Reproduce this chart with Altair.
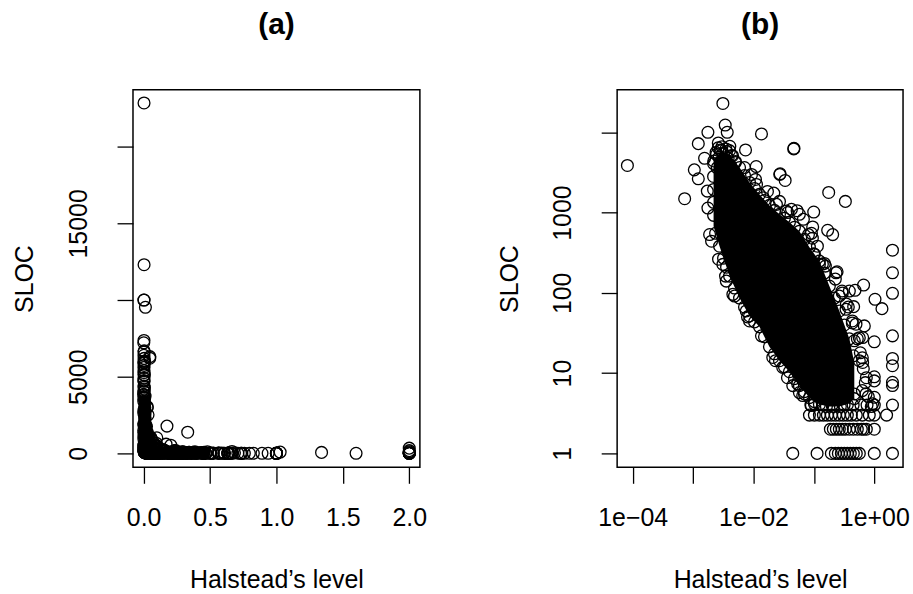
import altair as alt
import pandas as pd

FONT = "Liberation Sans"

# ---- circles: log10(Halstead's level), log10(SLOC) ----
# edge of the dense cloud (upper / left side)
EDGE_TOP_LX = [-2.661, -2.661, -2.661, -2.661, -2.661, -2.612, -2.529, -2.446, -2.364, -2.298,
               -2.231, -2.149, -2.066, -1.983, -1.901, -1.818, -1.736, -1.653, -1.570, -1.488,
               -1.405, -1.322, -1.240, -1.157, -1.074, -0.992, -0.909, -0.826, -0.744, -0.661,
               -0.579, -0.496, -0.413, -0.347]
EDGE_TOP_LY = [3.610, 3.449, 3.288, 3.127, 2.965, 3.722, 3.772, 3.759, 3.710, 3.635,
               3.561, 3.462, 3.375, 3.300, 3.226, 3.151, 3.089, 3.027, 2.978, 2.928,
               2.878, 2.816, 2.767, 2.667, 2.568, 2.481, 2.395, 2.246, 2.084, 1.935,
               1.774, 1.600, 1.427, 1.216]
# edge of the dense cloud (lower side)
EDGE_BOT_LX = [-2.628, -2.562, -2.496, -2.446, -2.397, -2.314, -2.231, -2.149, -2.066, -1.983,
               -1.901, -1.818, -1.736, -1.653, -1.570, -1.488, -1.405, -1.322, -1.240, -1.157,
               -1.074, -0.992, -0.909, -0.793, -0.678, -0.562, -0.446, -0.331]
EDGE_BOT_LY = [2.742, 2.581, 2.432, 2.320, 2.208, 2.060, 1.935, 1.824, 1.712, 1.638,
               1.576, 1.452, 1.328, 1.241, 1.154, 1.079, 1.017, 0.931, 0.844, 0.769,
               0.695, 0.645, 0.608, 0.583, 0.583, 0.583, 0.608, 0.682]
# loose circles just outside the edge of the cloud
HALO_LX = [-0.810, -0.645, -0.529, -0.430, -0.364, -0.281, -0.231, -0.182, -0.149, -0.099,
           -0.050, -2.149, -1.967, -1.769, -1.570, -1.372, -1.174, -1.041, -0.942,
           -2.694, -2.579, -2.463, -2.314, -2.099, -1.868, -1.636, -1.438, -1.240, -1.041]
HALO_LY = [2.333, 2.171, 1.998, 1.824, 1.625, 1.427, 1.253, 1.055, 0.881, 0.707,
           0.583, 3.561, 3.412, 3.263, 3.139, 3.040, 2.916, 2.742, 2.581,
           2.643, 2.419, 2.208, 1.960, 1.700, 1.464, 1.154, 0.943, 0.757, 0.596]
# scattered circles around the cloud
OUT_LX = [-4.088, -2.507, -2.468, -2.435, -2.755, -2.914, -2.810, -2.980, -2.914, -3.140,
          -1.868, -1.334, -1.330, -2.132, -1.955, -1.559, -1.476, -0.755, -0.479, -1.664,
          -1.278, -1.003, -1.433, -0.772, -0.689, -1.020, -1.090, -1.003, -0.826, -0.616,
          0.301, 0.301, 0.301, -0.177, -0.319, 0.012, 0.127, -0.342, -0.468, -0.579,
          -0.534, 0.301, 0.301, 0.301, 0.301, 0.301, 0.301, 0.204, 0.301, 0.0,
          0.0, 0.0, 0.0, 0.0, 0.0, 0.0, -0.177, -0.947, -1.350, -0.165,
          0.0, -0.193, -0.193, -0.331, -0.083,
          -2.033, -1.950, -1.620, -1.240, -1.025, -0.860, -0.463, -0.364, -0.248, -0.198,
          -0.132, -0.198, -0.909, -0.633, -0.413, -0.303, -0.331, -0.248, -0.137, -0.028,
          -2.120, -1.681, -1.516, -1.268, -1.157, -0.992, -2.755, -2.727, -2.507, -2.451,
          -2.342, -2.066, -1.350, -1.185, -2.765, -2.583, -2.392, -1.565, -1.840, -1.455]
OUT_LY = [3.586, 4.359, 4.090, 4.000, 4.000, 3.858, 3.676, 3.532, 3.420, 3.172,
          3.979, 3.793, 3.800, 3.780, 3.573, 3.483, 3.400, 3.250, 3.139, 3.242,
          3.023, 3.006, 3.000, 2.779, 2.725, 2.820, 2.725, 2.485, 2.366, 2.262,
          2.531, 2.250, 1.994, 2.097, 2.031, 1.919, 1.803, 1.828, 1.795, 1.960,
          2.022, 1.464, 1.182, 1.092, 0.885, 0.845, 0.602, 0.477, 0.0, 0.954,
          0.903, 0.699, 0.602, 0.477, 0.301, 0.0, 0.301, 0.0, 0.0, 1.588,
          1.390, 1.443, 1.133, 0.740, 0.477,
          3.474, 3.350, 3.102, 2.978, 2.680, 2.357, 1.861, 1.650, 1.439, 1.191,
          0.943, 0.782, 2.354, 2.250, 2.022, 1.609, 1.402, 1.154, 0.741, 0.617,
          1.774, 1.195, 1.071, 0.865, 0.741, 0.617, 3.056, 2.726, 2.354, 2.146,
          1.981, 1.650, 0.844, 0.720, 3.267, 3.867, 3.825, 3.474, 3.185, 3.019]
# rows of small programs (SLOC = 1, 2, 3, 4)
ROW_LX = [-0.711, -0.645, -0.595, -0.545, -0.496, -0.446, -0.397, -0.347, -0.298, -0.248,
          -0.727, -0.678, -0.628, -0.579, -0.529, -0.479, -0.413, -0.347, -0.281, -0.215, -0.132,
          -1.074, -0.992, -0.909, -0.843, -0.777, -0.711, -0.645, -0.579, -0.512, -0.446, -0.380,
          -0.298, -0.198,
          -1.050, -0.850, -0.700, -0.500, -0.350, -0.220, -0.120]
ROW_LY = [0.0] * 10 + [0.301] * 11 + [0.477] * 13 + [0.602] * 7
# tall programs at the top of the cloud (x close to 0 in panel (a))
TOP_LX = [-2.523, -2.585, -2.456, -2.553, -2.398, -2.620, -2.495, -2.347, -2.569, -2.420,
          -2.658, -2.301, -2.523, -2.377, -2.602]
TOP_LY = [3.820, 3.806, 3.792, 3.778, 3.771, 3.748, 3.732, 3.708, 3.690, 3.672,
          3.643, 3.623, 3.602, 3.580, 3.556]

# ---- solid core of the cloud in panel (b): log10 level, log10 lower / upper SLOC ----
CORE_LX = [-2.661, -2.562, -2.397, -2.231, -2.066, -1.901, -1.736, -1.570, -1.405, -1.240,
           -1.074, -0.909, -0.744, -0.579, -0.413, -0.331]
CORE_LO = [2.829, 2.581, 2.208, 1.935, 1.712, 1.576, 1.328, 1.154, 1.017, 0.844,
           0.695, 0.608, 0.583, 0.583, 0.620, 0.682]
CORE_HI = [3.660, 3.734, 3.722, 3.561, 3.375, 3.226, 3.089, 2.978, 2.878, 2.767,
           2.568, 2.395, 2.084, 1.774, 1.427, 1.129]

# ---- solid bands of panel (a): band, level, SLOC ----
BAND_ID = ["v", "v", "h", "h", "f", "f"]
BAND_ORDER = [0, 1, 0, 1, 0, 1]
BAND_LEVEL = [0.008, 0.008, 0.008, 0.45, 0.008, 0.07]
BAND_SLOC = [60, 3400, 60, 60, 1800, 150]

# ---- axes ----
XA_TICKS = [0, 0.5, 1, 1.5, 2]
XA_LABELS = ["0.0", "0.5", "1.0", "1.5", "2.0"]
YA_TICKS = [0, 5000, 10000, 15000, 20000]
YA_LABELS = ["0", "5000", "", "15000", ""]
XB_TICKS = [0.0001, 0.001, 0.01, 0.1, 1]
XB_LABELS = ["1e\u221204", "", "1e\u221202", "", "1e+00"]
YB_TICKS = [1, 10, 100, 1000, 10000]
YB_LABELS = ["1", "10", "100", "1000", ""]


def label_expr(ticks, labels):
    expr = "''"
    for t, l in zip(ticks, labels):
        expr = f"abs(datum.value - {t}) < {abs(t) * 1e-6 + 1e-12} ? '{l}' : ({expr})"
    return expr


lx = EDGE_TOP_LX + EDGE_BOT_LX + HALO_LX + OUT_LX + ROW_LX + TOP_LX
ly = EDGE_TOP_LY + EDGE_BOT_LY + HALO_LY + OUT_LY + ROW_LY + TOP_LY
pts = pd.DataFrame({"level": [10 ** v for v in lx], "sloc": [10 ** v for v in ly]})
core = pd.DataFrame({"level": [10 ** v for v in CORE_LX],
                     "lo": [10 ** v for v in CORE_LO],
                     "hi": [10 ** v for v in CORE_HI]})
bands = pd.DataFrame({"band": BAND_ID, "i": BAND_ORDER, "level": BAND_LEVEL, "sloc": BAND_SLOC})

W_A, W_B, H = 288, 287, 379

common = dict(domain=False, grid=False, ticks=True, tickSize=16, tickWidth=1.3, tickColor="black",
              labelFont=FONT, labelFontSize=25, labelColor="black", labelOverlap=False,
              labelFlush=False, titleFont=FONT, titleFontSize=25, titleFontWeight="normal",
              titleColor="black")


def xaxis(ticks, labels, width):
    return alt.Axis(values=ticks, labelExpr=label_expr(ticks, labels), labelAngle=0,
                    labelAlign="center", labelBaseline="middle", labelPadding=34.6,
                    title="Halstead\u2019s level", titleX=width / 2, titleY=121,
                    titleAlign="center", titleBaseline="alphabetic", titleAngle=0, **common)


def yaxis(ticks, labels):
    return alt.Axis(values=ticks, labelExpr=label_expr(ticks, labels), labelAngle=270,
                    labelAlign="center", labelBaseline="middle", labelPadding=38.5,
                    title="SLOC", titleX=-108.5, titleY=H / 2, titleAlign="center",
                    titleBaseline="middle", titleAngle=270, **common)


xa = alt.X("level:Q", scale=alt.Scale(domain=[-0.08, 2.08], nice=False, zero=False),
           axis=xaxis(XA_TICKS, XA_LABELS, W_A))
ya = alt.Y("sloc:Q", scale=alt.Scale(domain=[-912, 23712], nice=False, zero=False),
           axis=yaxis(YA_TICKS, YA_LABELS))
xb = alt.X("level:Q", scale=alt.Scale(type="log", domain=[10 ** -4.258, 10 ** 0.476], nice=False),
           axis=xaxis(XB_TICKS, XB_LABELS, W_B))
yb = alt.Y("sloc:Q", scale=alt.Scale(type="log", domain=[10 ** -0.174, 10 ** 4.529], nice=False),
           axis=yaxis(YB_TICKS, YB_LABELS))

circle = dict(shape="circle", filled=False, size=140, color="black", strokeWidth=1.3, opacity=1)


def title(t):
    return alt.TitleParams(text=t, font=FONT, fontSize=30, fontWeight="bold", color="black",
                           anchor="middle", frame="group", baseline="alphabetic", offset=26)


band_layer = alt.Chart(bands).mark_line(color="black", strokeWidth=12.5, strokeCap="round").encode(
    x=xa, y=ya, detail="band:N", order="i:Q")
pts_a = alt.Chart(pts).mark_point(**circle).encode(x=xa, y=ya)
panel_a = alt.layer(band_layer, pts_a).properties(width=W_A, height=H, title=title("(a)"))

core_layer = alt.Chart(core).mark_area(color="black", opacity=1, orient="vertical").encode(
    x=xb, y=alt.Y("lo:Q", scale=alt.Scale(type="log", domain=[10 ** -0.174, 10 ** 4.529], nice=False),
                  axis=yaxis(YB_TICKS, YB_LABELS)), y2="hi:Q")
pts_b = alt.Chart(pts).mark_point(**circle).encode(x=xb, y=yb)
panel_b = alt.layer(core_layer, pts_b).properties(width=W_B, height=H, title=title("(b)"))

chart = alt.hconcat(panel_a, panel_b, spacing=68).properties(
    padding={"left": 11.5, "top": 8, "right": 3, "bottom": 0}, background="white"
).configure_view(stroke="black", strokeWidth=1.5)

chart.save("out.html", embed_options={"renderer": "svg", "actions": False})
